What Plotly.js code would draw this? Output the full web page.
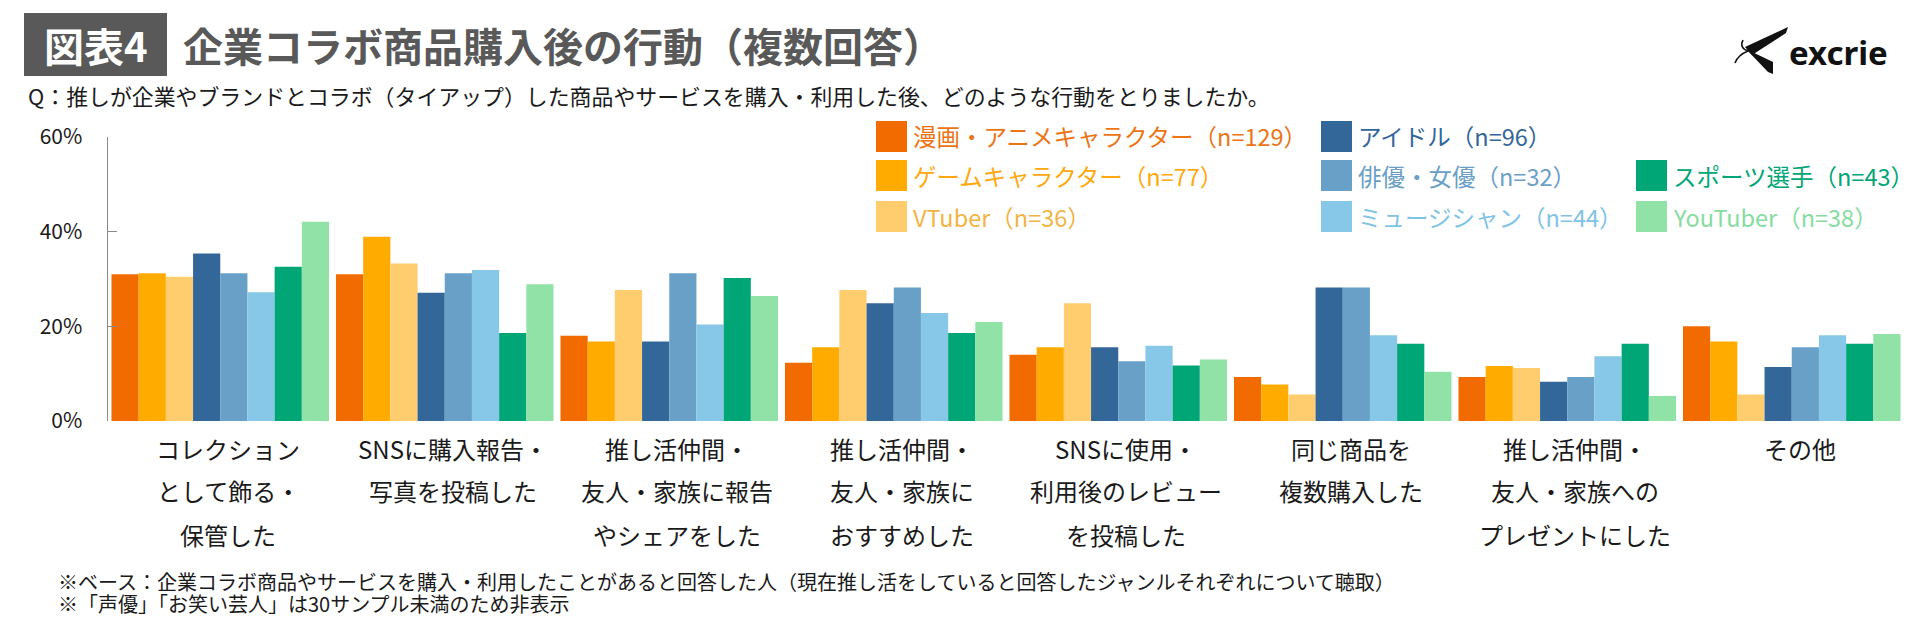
<!DOCTYPE html>
<html>
<head>
<meta charset="utf-8">
<script src="https://cdn.plot.ly/plotly-3.0.1.min.js"></script>
<style>
  html, body { margin: 0; padding: 0; background: #ffffff; }
  #chart { width: 1919px; height: 633px; }
</style>
</head>
<body>
<div id="chart"></div>
<script>
// Action categories (each entry = lines of the axis label)
const categories = [
  ['コレクション', 'として飾る・', '保管した'],
  ['SNSに購入報告・', '写真を投稿した'],
  ['推し活仲間・', '友人・家族に報告', 'やシェアをした'],
  ['推し活仲間・', '友人・家族に', 'おすすめした'],
  ['SNSに使用・', '利用後のレビュー', 'を投稿した'],
  ['同じ商品を', '複数購入した'],
  ['推し活仲間・', '友人・家族への', 'プレゼントにした'],
  ['その他']
];

// Genre series names (legend labels)
const seriesNames = [
  '漫画・アニメキャラクター（n=129）',
  'ゲームキャラクター（n=77）',
  'VTuber（n=36）',
  'アイドル（n=96）',
  '俳優・女優（n=32）',
  'ミュージシャン（n=44）',
  'スポーツ選手（n=43）',
  'YouTuber（n=38）'
];

// Percentages per genre, in category order
const mangaAnime  = [31.0, 31.0, 18.0, 12.3, 14.0,  9.3,  9.3, 20.0];
const gameChara   = [31.2, 38.9, 16.8, 15.6, 15.6,  7.7, 11.6, 16.8];
const vtuber      = [30.5, 33.3, 27.7, 27.7, 24.9,  5.6, 11.2,  5.6];
const idol        = [35.4, 27.1, 16.8, 24.9, 15.6, 28.2,  8.3, 11.4];
const actor       = [31.2, 31.2, 31.2, 28.2, 12.6, 28.2,  9.3, 15.6];
const musician    = [27.2, 31.9, 20.4, 22.8, 15.9, 18.1, 13.7, 18.1];
const athlete     = [32.6, 18.6, 30.2, 18.6, 11.7, 16.3, 16.3, 16.3];
const youtuber    = [42.1, 28.9, 26.4, 20.9, 13.0, 10.4,  5.3, 18.4];

const seriesValues = [mangaAnime, gameChara, vtuber, idol, actor, musician, athlete, youtuber];

// Y-axis ticks
const yTickVals = [0, 20, 40, 60];
const yTickText = ['0%', '20%', '40%', '60%'];

// Header and footnote texts
const badgeText = '図表4';
const titleText = '企業コラボ商品購入後の行動（複数回答）';
const questionText = 'Q：推しが企業やブランドとコラボ（タイアップ）した商品やサービスを購入・利用した後、どのような行動をとりましたか。';
const noteLines = [
  '※ベース：企業コラボ商品やサービスを購入・利用したことがあると回答した人（現在推し活をしていると回答したジャンルそれぞれについて聴取）',
  '※「声優」「お笑い芸人」は30サンプル未満のため非表示'
];
const brandText = 'excrie';

// Colours
const barColors = ['#F26B00', '#FFAB00', '#FFCD6E', '#336699', '#69A0C8', '#87C7E7', '#00A676', '#90E2A6'];
const legendTextColors = ['#EC7415', '#FFA80F', '#F2B444', '#336699', '#6A9FC8', '#80C3E4', '#00A676', '#86DCA0'];

// ---- layout geometry (pixels) ----
const FIG_W = 1919, FIG_H = 633;
const M = { l: 108, r: 15, t: 137, b: 212 };
const PW = FIG_W - M.l - M.r;
const PH = FIG_H - M.t - M.b;
const px = x => (x - M.l) / PW;          // pixel x -> paper x
const py = y => (FIG_H - M.b - y) / PH;  // pixel y -> paper y

const FONT = '"Noto Sans CJK JP", "Noto Sans", sans-serif';
const catKeys = categories.map(c => c.join(''));

const traces = seriesValues.map((vals, i) => ({
  type: 'bar',
  name: seriesNames[i],
  x: catKeys,
  y: vals,
  marker: { color: barColors[i], line: { width: 0 } },
  hoverinfo: 'x+y+name'
}));

const shapes = [];
const annotations = [];

// Badge box + title
shapes.push({
  type: 'rect', xref: 'paper', yref: 'paper',
  x0: px(24), x1: px(167), y0: py(76), y1: py(13),
  fillcolor: '#595959', line: { width: 0 }, layer: 'above'
});
annotations.push({
  xref: 'paper', yref: 'paper', x: px(95.5), y: py(45),
  xanchor: 'center', yanchor: 'middle', showarrow: false,
  text: '<b>' + badgeText + '</b>',
  font: { family: FONT, size: 40, color: '#ffffff' }
});
annotations.push({
  xref: 'paper', yref: 'paper', x: px(181), y: py(45),
  xanchor: 'left', yanchor: 'middle', showarrow: false,
  text: '<b>' + titleText + '</b>',
  font: { family: FONT, size: 40, color: '#595959' }
});
annotations.push({
  xref: 'paper', yref: 'paper', x: px(26), y: py(95),
  xanchor: 'left', yanchor: 'middle', showarrow: false,
  text: questionText,
  font: { family: FONT, size: 21.9, color: '#1a1a1a' }
});

// Brand mark
shapes.push({
  type: 'path', xref: 'paper', yref: 'paper', layer: 'above',
  path: 'M' + px(1788) + ',' + py(27) + ' L' + px(1745) + ',' + py(47) +
        ' L' + px(1752) + ',' + py(55) + ' L' + px(1786) + ',' + py(33) + ' Z',
  fillcolor: '#111111', line: { width: 0 }
});
shapes.push({
  type: 'path', xref: 'paper', yref: 'paper', layer: 'above',
  path: 'M' + px(1746) + ',' + py(49) + ' L' + px(1773) + ',' + py(62) +
        ' L' + px(1773) + ',' + py(74) + ' L' + px(1768) + ',' + py(72) + ' Z',
  fillcolor: '#111111', line: { width: 0 }
});
shapes.push({
  type: 'path', xref: 'paper', yref: 'paper', layer: 'above',
  path: 'M' + px(1743) + ',' + py(40) + ' Q' + px(1739) + ',' + py(48) + ' ' + px(1748) + ',' + py(51) +
        ' Q' + px(1738) + ',' + py(55) + ' ' + px(1735) + ',' + py(63),
  line: { color: '#111111', width: 1.6 }
});
annotations.push({
  xref: 'paper', yref: 'paper', x: px(1787), y: py(52),
  xanchor: 'left', yanchor: 'middle', showarrow: false,
  text: '<b>' + brandText + '</b>',
  font: { family: '"Noto Sans", sans-serif', size: 33, color: '#111111' }
});

// Legend (three columns, swatch + coloured label)
const legendCol = [0, 0, 0, 1, 1, 1, 2, 2];
const legendRow = [0, 1, 2, 0, 1, 2, 1, 2];
const colLeft = [876, 1321, 1636];
const rowTop = [121, 160, 201];
const SW = 31;
seriesNames.forEach((name, i) => {
  const x0 = colLeft[legendCol[i]];
  const y0 = rowTop[legendRow[i]];
  shapes.push({
    type: 'rect', xref: 'paper', yref: 'paper',
    x0: px(x0), x1: px(x0 + SW), y0: py(y0 + SW), y1: py(y0),
    fillcolor: barColors[i], line: { width: 0 }
  });
  annotations.push({
    xref: 'paper', yref: 'paper', x: px(x0 + SW + 4), y: py(y0 + SW / 2),
    xanchor: 'left', yanchor: 'middle', showarrow: false,
    text: name,
    font: { family: FONT, size: 23.5, color: legendTextColors[i] }
  });
});

// Category labels under each group, one annotation per line
const lineY = [448, 491, 534];
categories.forEach((lines, ci) => {
  lines.forEach((ln, li) => {
    annotations.push({
      xref: 'x', yref: 'paper', x: ci, y: py(lineY[li]),
      xanchor: 'center', yanchor: 'middle', showarrow: false, xshift: 8,
      borderpad: 0,
      text: ln,
      font: { family: FONT, size: 24, color: '#1a1a1a' }
    });
  });
});

// Footnotes
noteLines.forEach((t, i) => {
  annotations.push({
    xref: 'paper', yref: 'paper', x: px(57), y: py(581 + i * 22),
    xanchor: 'left', yanchor: 'middle', showarrow: false,
    borderpad: 0,
    text: t,
    font: { family: FONT, size: 20, color: '#1a1a1a' }
  });
});

const layout = {
  width: FIG_W, height: FIG_H,
  margin: M,
  paper_bgcolor: '#ffffff', plot_bgcolor: '#ffffff',
  barmode: 'group', bargap: 0.031, bargroupgap: 0,
  showlegend: false,
  font: { family: FONT, color: '#1a1a1a' },
  xaxis: {
    type: 'category', range: [-0.5, 7.5],
    showticklabels: false, ticks: '', showline: false, showgrid: false, zeroline: false,
    fixedrange: true
  },
  yaxis: {
    range: [0, 60], tickvals: yTickVals, ticktext: yTickText,
    showline: true, linecolor: '#8a8a8a', linewidth: 1.5,
    ticks: 'inside', ticklen: 9, tickwidth: 1.5, tickcolor: '#8a8a8a',
    showgrid: false, zeroline: false,
    tickfont: { family: FONT, size: 21, color: '#1a1a1a' },
    ticklabelstandoff: 20,
    fixedrange: true
  },
  shapes: shapes,
  annotations: annotations
};

Plotly.newPlot('chart', traces, layout, { displayModeBar: false, staticPlot: true });
</script>
</body>
</html>
